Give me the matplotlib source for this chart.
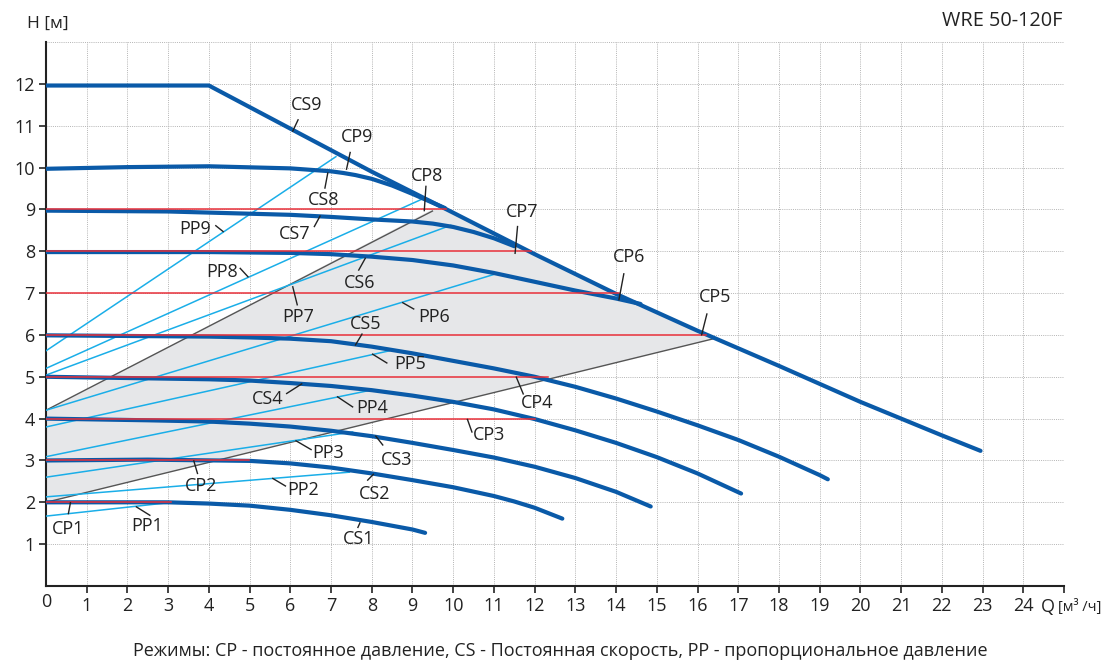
import numpy as np
import matplotlib.pyplot as plt

plt.rcParams['font.family'] = ['Open Sans', 'DejaVu Sans']

# --- CS: constant speed curves (Q [m3/h], H [m]) ---
cs1_q = [0, 1.5, 3, 4, 5, 6, 7, 8, 9, 9.31]
cs1_h = [2.0, 2.0, 2.0, 1.97, 1.92, 1.82, 1.69, 1.53, 1.35, 1.27]
cs2_q = [0, 2.5, 5, 6, 7, 8, 9, 10, 11, 11.5, 12, 12.68]
cs2_h = [3.0, 3.02, 2.99, 2.93, 2.83, 2.69, 2.53, 2.36, 2.15, 2.02, 1.87, 1.61]
cs3_q = [0, 2.5, 4, 5, 6, 7, 8, 9, 10, 11, 12, 13, 14, 14.85]
cs3_h = [4.0, 3.96, 3.93, 3.88, 3.81, 3.71, 3.58, 3.42, 3.25, 3.07, 2.85, 2.58, 2.25, 1.9]
cs4_q = [0, 4, 5, 6, 7, 8, 9, 10, 11, 12, 13, 14, 15, 16, 17.07]
cs4_h = [5.0, 4.94, 4.91, 4.85, 4.78, 4.68, 4.55, 4.40, 4.22, 3.99, 3.72, 3.42, 3.08, 2.69, 2.21]
cs5_q = [0, 4, 5, 6, 7, 8, 9, 10, 11, 12, 13, 14, 15, 16, 17, 18, 19, 19.2]
cs5_h = [5.99, 5.96, 5.94, 5.91, 5.85, 5.72, 5.56, 5.38, 5.2, 5.0, 4.76, 4.48, 4.17, 3.84, 3.49, 3.09, 2.65, 2.55]
cs6_q = [0, 4, 6, 7, 8, 9, 10, 11, 12, 13, 14, 14.6]
cs6_h = [7.98, 7.98, 7.96, 7.93, 7.87, 7.79, 7.66, 7.48, 7.27, 7.06, 6.87, 6.74]
cs7_q = [0, 3, 6, 7, 8, 9, 9.5, 10, 10.5, 11, 11.5]
cs7_h = [8.97, 8.95, 8.87, 8.82, 8.76, 8.71, 8.66, 8.58, 8.46, 8.31, 8.12]
cs8_q = [0, 2, 4, 6, 7, 7.3, 7.6, 8, 8.5, 9, 9.8]
cs8_h = [9.97, 10.01, 10.03, 9.98, 9.91, 9.87, 9.82, 9.73, 9.57, 9.37, 9.03]
cs9_q = [0, 4, 6, 8, 10, 12, 14, 16, 18, 20, 22, 22.95]
cs9_h = [11.96, 11.96, 10.93, 9.9, 8.92, 7.93, 6.98, 6.1, 5.26, 4.4, 3.6, 3.23]

# --- CP: constant pressure levels and where they stop ---
cp_h = [2, 3, 4, 5, 6, 7, 8, 9]
cp_end_q = [3.08, 4.98, 12.0, 12.33, 16.2, 14.07, 11.9, 9.83]

# --- PP: proportional pressure lines (start at Q=0, end on a curve) ---
pp_start_h = [1.67, 2.13, 2.6, 3.09, 3.80, 4.20, 5.04, 5.20, 5.62]
pp_end_q = [3.0, 7.45, 7.53, 7.98, 8.43, 11.05, 9.94, 9.2, 7.12]
pp_end_h = [1.99, 2.72, 3.68, 4.68, 5.62, 7.46, 8.62, 9.23, 10.26]

# --- grey working range borders ---
grey_up_q = [0, 9.49]
grey_up_h = [4.2, 8.96]
grey_lo_q = [0, 16.44]
grey_lo_h = [2.0, 5.92]

# labels: text, text pos, leader from -> to
labels = [
    ('CS9', 6.41, 11.49, 6.19, 11.14, 6.06, 10.87),
    ('CP9', 7.63, 10.72, 7.47, 10.36, 7.38, 9.96),
    ('CS8', 6.82, 9.23, 6.92, 9.87, 6.85, 9.51),
    ('CP8', 9.35, 9.80, 9.33, 9.55, 9.29, 8.97),
    ('CS7', 6.10, 8.41, 6.59, 8.59, 6.73, 8.84),
    ('PP9', 3.65, 8.53, 4.17, 8.61, 4.35, 8.47),
    ('PP8', 4.33, 7.51, 4.77, 7.59, 4.96, 7.39),
    ('PP7', 6.20, 6.43, 6.06, 7.15, 6.17, 6.72),
    ('CS6', 7.70, 7.24, 7.84, 7.83, 7.68, 7.55),
    ('PP6', 9.53, 6.43, 8.76, 6.77, 9.03, 6.62),
    ('CS5', 7.86, 6.26, 7.76, 6.02, 7.60, 5.76),
    ('PP5', 8.94, 5.30, 8.02, 5.54, 8.37, 5.33),
    ('CS4', 5.45, 4.47, 5.91, 4.60, 6.28, 4.83),
    ('PP4', 8.00, 4.25, 7.16, 4.52, 7.53, 4.28),
    ('CP4', 12.05, 4.38, 11.55, 4.99, 11.72, 4.59),
    ('CP3', 10.88, 3.61, 10.35, 3.98, 10.46, 3.68),
    ('CS3', 8.62, 3.02, 8.10, 3.58, 8.27, 3.37),
    ('PP3', 6.93, 3.17, 6.14, 3.47, 6.51, 3.26),
    ('CS2', 8.06, 2.19, 8.04, 2.67, 7.90, 2.53),
    ('PP2', 6.32, 2.29, 5.57, 2.57, 5.88, 2.39),
    ('CP2', 3.82, 2.40, 3.63, 2.99, 3.72, 2.69),
    ('CS1', 7.68, 1.12, 7.71, 1.51, 7.66, 1.40),
    ('PP1', 2.49, 1.43, 2.22, 1.89, 2.55, 1.69),
    ('CP1', 0.54, 1.36, 0.60, 1.99, 0.55, 1.73),
    ('CP7', 11.69, 8.93, 11.58, 8.59, 11.52, 7.95),
    ('CP6', 14.31, 7.86, 14.19, 7.46, 14.07, 6.84),
    ('CP5', 16.44, 6.91, 16.23, 6.50, 16.10, 6.00),
]

W, H = 1115, 663
fig = plt.figure(figsize=(W / 100, H / 100), dpi=100)
ax = fig.add_axes([46 / W, 77 / H, (1064 - 46) / W, (586 - 42) / H])
ax.set_xlim(0, 25)
ax.set_ylim(0, 13)

# grid
for gx in range(1, 26):
    ax.axvline(gx, color='#b4b4b4', lw=0.7, ls=(0, (1, 1.2)), zorder=0)
for gy in range(1, 14):
    ax.axhline(gy, color='#b4b4b4', lw=0.7, ls=(0, (1, 1.2)), zorder=0)

# shaded working range
cs9q = np.array(cs9_q)
cs9h = np.array(cs9_h)
mid = (cs9q > cp_end_q[-1]) & (cs9q < grey_lo_q[1])
poly_q = [grey_lo_q[0], grey_up_q[0], grey_up_q[1], cp_end_q[-1]] + list(cs9q[mid]) + [grey_lo_q[1]]
poly_h = [grey_lo_h[0], grey_up_h[0], 9.0, 9.0] + list(cs9h[mid]) + [grey_lo_h[1]]
ax.fill(poly_q, poly_h, color='#e6e7e9', lw=0, zorder=1)

# grey borders
ax.plot(grey_up_q, grey_up_h, color='#555555', lw=1.0, zorder=2)
ax.plot(grey_lo_q, grey_lo_h, color='#555555', lw=1.0, zorder=2)

# PP lines
for h0, qe, he in zip(pp_start_h, pp_end_q, pp_end_h):
    ax.plot([0, qe], [h0, he], color='#1aaee8', lw=1.1, zorder=3)

# CS curves
blue = '#0a5aa8'
for q, h in [(cs1_q, cs1_h), (cs2_q, cs2_h), (cs3_q, cs3_h), (cs4_q, cs4_h),
             (cs5_q, cs5_h), (cs6_q, cs6_h), (cs7_q, cs7_h), (cs8_q, cs8_h),
             (cs9_q, cs9_h)]:
    ax.plot(q, h, color=blue, lw=3.0, solid_capstyle='round',
            solid_joinstyle='round', zorder=4)

# CP lines
for h, qe in zip(cp_h, cp_end_q):
    ax.plot([0, qe], [h, h], color='#e8303a', lw=1.1, zorder=5)

# labels
for txt, tx, ty, x0, y0, x1, y1 in labels:
    ax.plot([x0, x1], [y0, y1], color='#222222', lw=1.0, zorder=6)
    ax.text(tx, ty, txt, fontsize=13, color='#222222', ha='center',
            va='center', zorder=7)

# axes styling
for s in ['top', 'right']:
    ax.spines[s].set_visible(False)
for s in ['left', 'bottom']:
    ax.spines[s].set_color('#222222')
    ax.spines[s].set_linewidth(1.5)

ax.set_xticks(range(1, 26))
ax.set_xticklabels([str(i) for i in range(1, 25)] + [''])
ax.set_yticks(range(1, 13))
ax.set_yticklabels([str(i) for i in range(1, 13)])
ax.tick_params(axis='both', direction='out', length=5, width=1.2,
               color='#222222', labelsize=13, labelcolor='#222222', pad=3)
ax.text(0, -0.03, '0', transform=ax.get_xaxis_transform(), ha='center',
        va='center', fontsize=13, color='#222222')

# texts
fig.text(27 / W, 1 - 24 / H, 'H [м]', fontsize=12.5, color='#222222',
         ha='left', va='center')
fig.text(1063 / W, 1 - 21 / H, 'WRE 50-120F', fontsize=14.3, color='#222222',
         ha='right', va='center')
fig.text(1041 / W, 1 - 607 / H, 'Q', fontsize=13, color='#222222',
         ha='left', va='center')
fig.text(1058 / W, 1 - 607 / H, '[м³ /ч]', fontsize=10.5, color='#222222',
         ha='left', va='center')
fig.text(560 / W, 1 - 651 / H,
         'Режимы: CP - постоянное давление, CS - Постоянная скорость, '
         'PP - пропорциональное давление',
         fontsize=13, color='#222222', ha='center', va='center')

fig.savefig('out.png', dpi=100, facecolor='white')
